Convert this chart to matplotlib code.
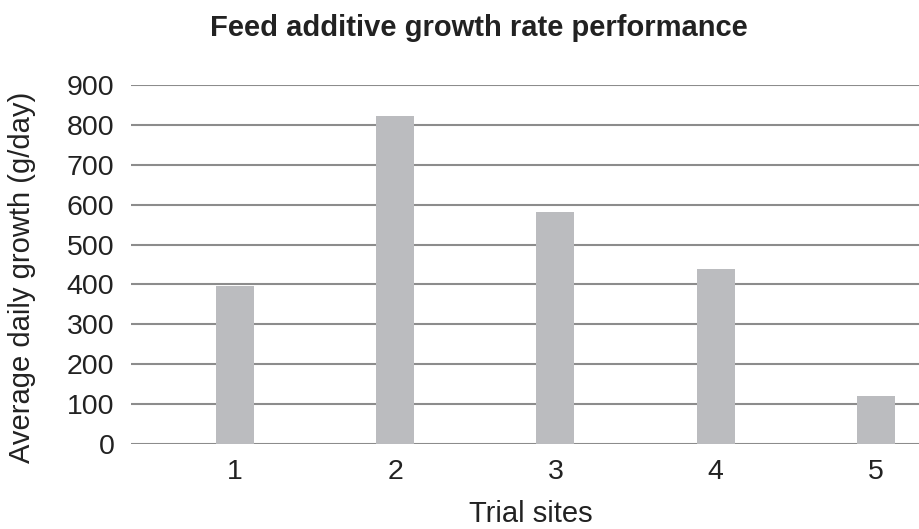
import matplotlib.pyplot as plt

# trial site results
sites = [1, 2, 3, 4, 5]
growth = [395, 822, 582, 438, 120]
yticks = [0, 100, 200, 300, 400, 500, 600, 700, 800, 900]

plt.rcParams['font.family'] = ['Liberation Sans', 'DejaVu Sans']

fig = plt.figure(figsize=(9.2, 5.29), dpi=100)
ax = fig.add_axes([131 / 920, 1 - 444 / 529, 1 - 131 / 920, (444 - 85) / 529])

ax.bar(sites, growth, width=0.237, color='#bbbcbf', zorder=2)

ax.set_ylim(0, 900)
ax.set_xlim(0.351, 5.275)
ax.set_yticks(yticks)
ax.set_xticks(sites)
ax.yaxis.grid(True, color='#8c8c8c', linewidth=1.5, zorder=0)
ax.tick_params(axis='both', length=0, labelsize=20.5, colors='#222222')
ax.tick_params(axis='y', pad=12)
ax.tick_params(axis='x', pad=11)
for s in ax.spines.values():
    s.set_visible(False)

# axis titles and chart title placed in figure pixels
fig.text(531 / 920, 1 - 522 / 529, 'Trial sites', fontsize=21, color='#222222',
         ha='center', va='baseline')
fig.text(22 / 920, 1 - 277 / 529, 'Average daily growth (g/day)', fontsize=21,
         color='#222222', ha='center', va='center', rotation=90)
fig.text(479 / 920, 1 - 36 / 529, 'Feed additive growth rate performance',
         fontsize=21, fontweight='bold', color='#222222', ha='center', va='baseline')

fig.savefig('out.png', dpi=100)
